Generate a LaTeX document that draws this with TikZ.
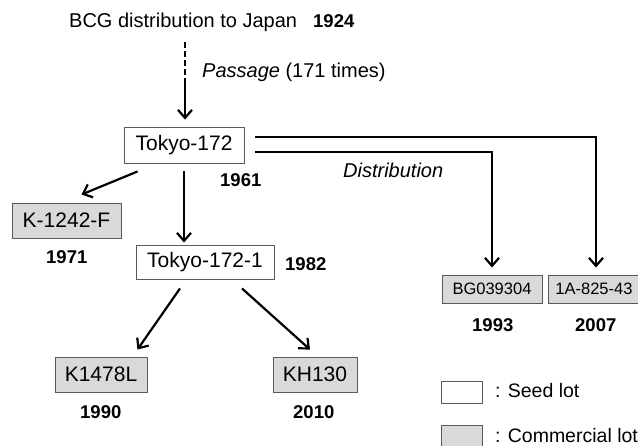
\documentclass[tikz,border=0pt]{standalone}
\usepackage{fontspec}
\setmainfont{Liberation Sans}
\usetikzlibrary{arrows.meta}

\begin{document}
\begin{tikzpicture}[x=1pt, y=-1pt,
    lot/.style={draw=black!65, line width=0.9pt, inner sep=0pt, minimum height=35pt,
                font=\fontsize{21}{24}\selectfont},
    seedlot/.style={lot, fill=white},
    commlot/.style={lot, fill=gray!30},
    smalllot/.style={commlot, minimum height=28pt, font=\fontsize{16.5}{20}\selectfont},
    lbl/.style={inner sep=0pt, anchor=base west, font=\fontsize{20}{24}\selectfont},
    keylbl/.style={lbl, font=\fontsize{19.5}{23}\selectfont},
    yr/.style={inner sep=0pt, anchor=base west, font=\fontsize{18.5}{22}\selectfont\bfseries},
    arr/.style={line width=2.2pt, -{Straight Barb[length=8pt, width=14pt]}}]

  \path[fill=white, use as bounding box] (0,0) rectangle (638,445);

  % lots
  \node[seedlot, minimum width=120pt, minimum height=36pt] (tokyo) at (184,145) {Tokyo-172};
  \node[seedlot, minimum width=138pt, minimum height=34pt] (tokyoone) at (205,262) {Tokyo-172-1};
  \node[commlot, minimum width=109pt] (kf) at (66.5,220.5) {K-1242-F};
  \node[commlot, minimum width=92pt] (kl) at (101,374.5) {K1478L};
  \node[commlot, minimum width=84pt] (kh) at (315,374.5) {KH130};
  \node[smalllot, minimum width=100pt] (bg) at (492,289) {BG039304};
  \node[smalllot, minimum width=92pt] (onea) at (594,289) {1A-825-43};

  % texts and years
  \node[lbl] (bcg) at (69,27) {BCG distribution to Japan};
  \node[yr] (y1924) at (313,27) {1924};
  \node[lbl] (passage) at (202,77) {\textit{Passage} (171 times)};
  \node[lbl] (distlbl) at (343,177) {\textit{Distribution}};
  \node[yr] (y1961) at (220,186) {1961};
  \node[yr] (y1971) at (46,263) {1971};
  \node[yr] (y1982) at (285,270) {1982};
  \node[yr] (y1993) at (472,331) {1993};
  \node[yr] (y2007) at (575,331) {2007};
  \node[yr] (y1990) at (80,418) {1990};
  \node[yr] (y2010) at (293,418) {2010};

  % connectors
  \coordinate (dashtop) at (185,42);
  \coordinate (dashend) at (185,83);
  \draw[line width=2.2pt, dash pattern=on 6pt off 3pt] (dashtop) -- (dashend);
  \draw[arr, shorten >=7pt] (dashend) -- (dashend |- tokyo.north);
  \draw[arr, shorten <=8pt, shorten >=2pt] (tokyo.south) -- (tokyo.south |- tokyoone.north);
  \draw[arr] ([shift={(14pt,-8pt)}]tokyo.south west) -- ([shift={(15pt,8pt)}]kf.north);
  \draw[arr] ([shift={(-25pt,-9pt)}]tokyoone.south) -- ([shift={(-10pt,7pt)}]kl.north east);
  \draw[arr] ([shift={(37pt,-9pt)}]tokyoone.south) -- ([shift={(-5pt,7pt)}]kh.north);
  \draw[arr, shorten >=7pt] ([shift={(11pt,8pt)}]tokyo.east) -| ([xshift=2pt]onea.north);
  \draw[arr, shorten >=7pt] ([shift={(11pt,-7pt)}]tokyo.east) -| (bg.north);

  % key
  \node[seedlot, minimum width=41pt, minimum height=22pt] (seedkey) at (461.5,392) {};
  \node[keylbl] (seedtxt) at (495,397) {: Seed lot};
  \node[commlot, minimum width=41pt, minimum height=22pt] (commkey) at (461.5,436) {};
  \node[keylbl] (commtxt) at (495,442) {: Commercial lot};
\end{tikzpicture}
\end{document}
